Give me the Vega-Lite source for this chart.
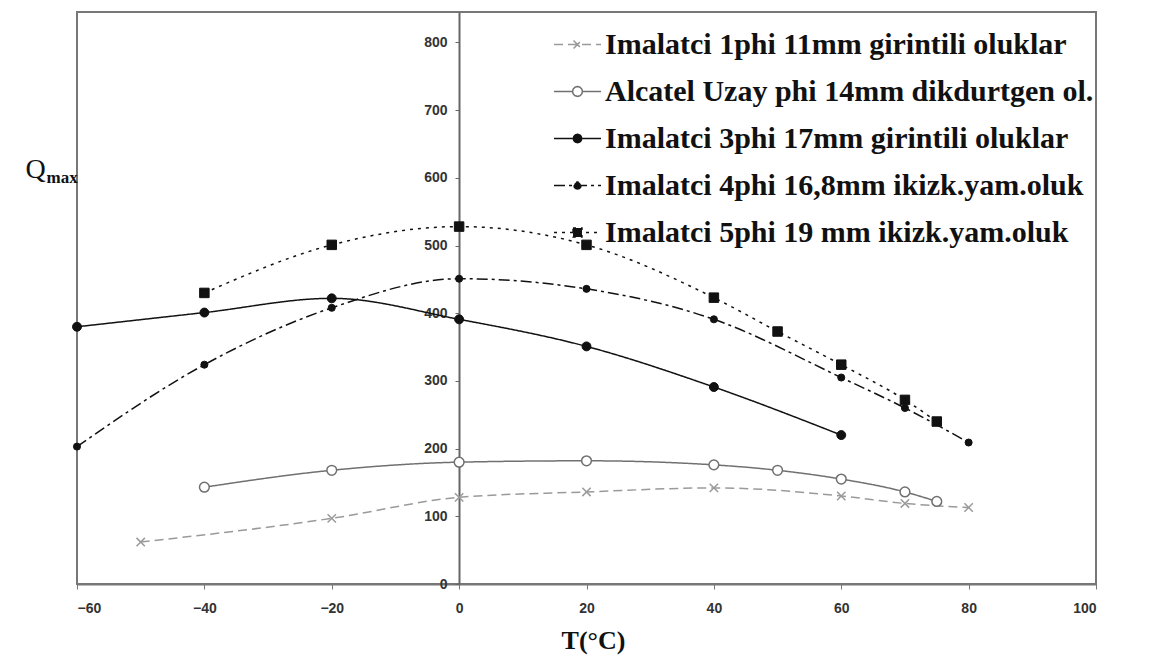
{
  "$schema": "https://vega.github.io/schema/vega-lite/v6.json",
  "width": 1019,
  "height": 572,
  "autosize": {"type": "none"},
  "padding": {"left": 77, "top": 12, "right": 53, "bottom": 87},
  "background": "white",
  "config": {"view": {"stroke": "#777777", "strokeWidth": 2}, "legend": {"symbolOpacity": 1}},
  "data": {
    "values": [
      {"s": "Imalatci 1phi 11mm girintili oluklar", "T": -50, "Q": 62},
      {"s": "Imalatci 1phi 11mm girintili oluklar", "T": -20, "Q": 97},
      {"s": "Imalatci 1phi 11mm girintili oluklar", "T": 0, "Q": 128},
      {"s": "Imalatci 1phi 11mm girintili oluklar", "T": 20, "Q": 136},
      {"s": "Imalatci 1phi 11mm girintili oluklar", "T": 40, "Q": 142},
      {"s": "Imalatci 1phi 11mm girintili oluklar", "T": 60, "Q": 130},
      {"s": "Imalatci 1phi 11mm girintili oluklar", "T": 70, "Q": 119},
      {"s": "Imalatci 1phi 11mm girintili oluklar", "T": 80, "Q": 113},
      {"s": "Alcatel Uzay phi 14mm dikdurtgen ol.", "T": -40, "Q": 143},
      {"s": "Alcatel Uzay phi 14mm dikdurtgen ol.", "T": -20, "Q": 168},
      {"s": "Alcatel Uzay phi 14mm dikdurtgen ol.", "T": 0, "Q": 180},
      {"s": "Alcatel Uzay phi 14mm dikdurtgen ol.", "T": 20, "Q": 182},
      {"s": "Alcatel Uzay phi 14mm dikdurtgen ol.", "T": 40, "Q": 176},
      {"s": "Alcatel Uzay phi 14mm dikdurtgen ol.", "T": 50, "Q": 168},
      {"s": "Alcatel Uzay phi 14mm dikdurtgen ol.", "T": 60, "Q": 155},
      {"s": "Alcatel Uzay phi 14mm dikdurtgen ol.", "T": 70, "Q": 136},
      {"s": "Alcatel Uzay phi 14mm dikdurtgen ol.", "T": 75, "Q": 122},
      {"s": "Imalatci 3phi 17mm girintili oluklar", "T": -60, "Q": 380},
      {"s": "Imalatci 3phi 17mm girintili oluklar", "T": -40, "Q": 401},
      {"s": "Imalatci 3phi 17mm girintili oluklar", "T": -20, "Q": 422},
      {"s": "Imalatci 3phi 17mm girintili oluklar", "T": 0, "Q": 391},
      {"s": "Imalatci 3phi 17mm girintili oluklar", "T": 20, "Q": 351},
      {"s": "Imalatci 3phi 17mm girintili oluklar", "T": 40, "Q": 291},
      {"s": "Imalatci 3phi 17mm girintili oluklar", "T": 60, "Q": 220},
      {"s": "Imalatci 4phi 16,8mm ikizk.yam.oluk", "T": -60, "Q": 203},
      {"s": "Imalatci 4phi 16,8mm ikizk.yam.oluk", "T": -40, "Q": 324},
      {"s": "Imalatci 4phi 16,8mm ikizk.yam.oluk", "T": -20, "Q": 408},
      {"s": "Imalatci 4phi 16,8mm ikizk.yam.oluk", "T": 0, "Q": 451},
      {"s": "Imalatci 4phi 16,8mm ikizk.yam.oluk", "T": 20, "Q": 436},
      {"s": "Imalatci 4phi 16,8mm ikizk.yam.oluk", "T": 40, "Q": 391},
      {"s": "Imalatci 4phi 16,8mm ikizk.yam.oluk", "T": 60, "Q": 305},
      {"s": "Imalatci 4phi 16,8mm ikizk.yam.oluk", "T": 70, "Q": 260},
      {"s": "Imalatci 4phi 16,8mm ikizk.yam.oluk", "T": 80, "Q": 209},
      {"s": "Imalatci 5phi 19 mm ikizk.yam.oluk", "T": -40, "Q": 430},
      {"s": "Imalatci 5phi 19 mm ikizk.yam.oluk", "T": -20, "Q": 501},
      {"s": "Imalatci 5phi 19 mm ikizk.yam.oluk", "T": 0, "Q": 528},
      {"s": "Imalatci 5phi 19 mm ikizk.yam.oluk", "T": 20, "Q": 501},
      {"s": "Imalatci 5phi 19 mm ikizk.yam.oluk", "T": 40, "Q": 423},
      {"s": "Imalatci 5phi 19 mm ikizk.yam.oluk", "T": 50, "Q": 373},
      {"s": "Imalatci 5phi 19 mm ikizk.yam.oluk", "T": 60, "Q": 324},
      {"s": "Imalatci 5phi 19 mm ikizk.yam.oluk", "T": 70, "Q": 272},
      {"s": "Imalatci 5phi 19 mm ikizk.yam.oluk", "T": 75, "Q": 240}
    ]
  },
  "layer": [
    {
      "mark": {"type": "line", "interpolate": "monotone"},
      "encoding": {
        "x": {
          "field": "T", "type": "quantitative",
          "scale": {"domain": [-60, 100], "nice": false, "zero": false},
          "axis": {
            "values": [-60, -40, -20, 0, 20, 40, 60, 80, 100],
            "domainColor": "#777777", "domainWidth": 2,
            "tickColor": "#777777", "tickSize": 5,
            "labelFont": "Liberation Sans", "labelFontSize": 14, "labelFontWeight": "bold", "labelColor": "#333333", "labelPadding": 12,
            "grid": false,
            "title": "T(°C)", "titleFont": "Liberation Serif", "titleFontSize": 26, "titleFontWeight": "bold", "titleColor": "#111111",
            "titleX": 516, "titleY": 64, "titleBaseline": "alphabetic"
          }
        },
        "y": {
          "field": "Q", "type": "quantitative",
          "scale": {"domain": [0, 845], "nice": false},
          "axis": {
            "orient": "left", "offset": -382,
            "values": [0, 100, 200, 300, 400, 500, 600, 700, 800],
            "domainColor": "#666666", "domainWidth": 2,
            "tickColor": "#666666", "tickSize": 4,
            "labelFont": "Liberation Sans", "labelFontSize": 14, "labelFontWeight": "bold", "labelColor": "#333333", "labelPadding": 8,
            "grid": false,
            "title": "Q", "titleFont": "Liberation Serif", "titleFontSize": 28, "titleFontWeight": "normal", "titleColor": "#111111",
            "titleAngle": 0, "titleAlign": "left", "titleBaseline": "alphabetic", "titleX": -434, "titleY": 165
          }
        },
        "stroke": {
          "field": "s", "type": "nominal",
          "scale": {
            "domain": ["Imalatci 1phi 11mm girintili oluklar", "Alcatel Uzay phi 14mm dikdurtgen ol.", "Imalatci 3phi 17mm girintili oluklar", "Imalatci 4phi 16,8mm ikizk.yam.oluk", "Imalatci 5phi 19 mm ikizk.yam.oluk"],
            "range": ["#9a9a9a", "#707070", "#111111", "#111111", "#111111"]
          }
        },
        "strokeDash": {
          "field": "s", "type": "nominal",
          "scale": {
            "domain": ["Imalatci 1phi 11mm girintili oluklar", "Alcatel Uzay phi 14mm dikdurtgen ol.", "Imalatci 3phi 17mm girintili oluklar", "Imalatci 4phi 16,8mm ikizk.yam.oluk", "Imalatci 5phi 19 mm ikizk.yam.oluk"],
            "range": [[9, 5], [1, 0], [1, 0], [11, 4, 3, 4], [3, 5]]
          }
        },
        "strokeWidth": {
          "field": "s", "type": "nominal",
          "scale": {
            "domain": ["Imalatci 1phi 11mm girintili oluklar", "Alcatel Uzay phi 14mm dikdurtgen ol.", "Imalatci 3phi 17mm girintili oluklar", "Imalatci 4phi 16,8mm ikizk.yam.oluk", "Imalatci 5phi 19 mm ikizk.yam.oluk"],
            "range": [1.5, 1.5, 2.2, 2.5, 2.5]
          }
        }
      }
    },
    {
      "mark": {"type": "point", "filled": true, "opacity": 0, "size": 1},
      "encoding": {
        "x": {"field": "T", "type": "quantitative"},
        "y": {"field": "Q", "type": "quantitative", "axis": null},
        "fill": {
          "field": "s", "type": "nominal",
          "scale": {
            "domain": ["Imalatci 1phi 11mm girintili oluklar", "Alcatel Uzay phi 14mm dikdurtgen ol.", "Imalatci 3phi 17mm girintili oluklar", "Imalatci 4phi 16,8mm ikizk.yam.oluk", "Imalatci 5phi 19 mm ikizk.yam.oluk"],
            "range": ["#9a9a9a", "#ffffff", "#111111", "#111111", "#111111"]
          }
        },
        "shape": {
          "field": "s", "type": "nominal",
          "scale": {
            "domain": ["Imalatci 1phi 11mm girintili oluklar", "Alcatel Uzay phi 14mm dikdurtgen ol.", "Imalatci 3phi 17mm girintili oluklar", "Imalatci 4phi 16,8mm ikizk.yam.oluk", "Imalatci 5phi 19 mm ikizk.yam.oluk"],
            "range": [
              "M-1,0H1M-0.17,-0.17L0.17,0.17M-0.17,0.17L0.17,-0.17",
              "M-1,0H-0.21M0.21,0H1M0.21,0L0.182,0.105L0.105,0.182L0,0.21L-0.105,0.182L-0.182,0.105L-0.21,0L-0.182,-0.105L-0.105,-0.182L0,-0.21L0.105,-0.182L0.182,-0.105Z",
              "M-1,0H1M0.18,0L0.156,0.09L0.09,0.156L0,0.18L-0.09,0.156L-0.156,0.09L-0.18,0L-0.156,-0.09L-0.09,-0.156L0,-0.18L0.09,-0.156L0.156,-0.09Z",
              "M-1,0H1M0.15,0L0.13,0.075L0.075,0.13L0,0.15L-0.075,0.13L-0.13,0.075L-0.15,0L-0.13,-0.075L-0.075,-0.13L0,-0.15L0.075,-0.13L0.13,-0.075Z",
              "M-1,0H1M-0.19,-0.19H0.19V0.19H-0.19Z"
            ]
          },
          "legend": {
            "orient": "none", "legendX": 476, "legendY": 8, "title": null, "padding": 0,
            "labelFont": "Liberation Serif", "labelFontSize": 30, "labelFontWeight": "bold", "labelColor": "#111111", "labelLimit": 800,
            "labelOffset": 3, "symbolSize": 2209, "symbolOpacity": 1, "rowPadding": 7
          }
        }
      }
    },
    {
      "transform": [{"filter": "datum.s === 'Imalatci 1phi 11mm girintili oluklar'"}],
      "mark": {"type": "point", "shape": "M-1,-1L1,1M-1,1L1,-1", "size": 70, "stroke": "#9a9a9a", "strokeWidth": 1.5, "filled": false, "opacity": 1},
      "encoding": {
        "x": {"field": "T", "type": "quantitative"},
        "y": {"field": "Q", "type": "quantitative", "axis": null}
      }
    },
    {
      "transform": [{"filter": "datum.s === 'Alcatel Uzay phi 14mm dikdurtgen ol.'"}],
      "mark": {"type": "point", "shape": "circle", "size": 95, "stroke": "#707070", "fill": "#ffffff", "strokeWidth": 1.5, "opacity": 1},
      "encoding": {
        "x": {"field": "T", "type": "quantitative"},
        "y": {"field": "Q", "type": "quantitative", "axis": null}
      }
    },
    {
      "transform": [{"filter": "datum.s === 'Imalatci 3phi 17mm girintili oluklar'"}],
      "mark": {"type": "point", "shape": "circle", "size": 80, "stroke": "#111111", "fill": "#111111", "strokeWidth": 1, "opacity": 1},
      "encoding": {
        "x": {"field": "T", "type": "quantitative"},
        "y": {"field": "Q", "type": "quantitative", "axis": null}
      }
    },
    {
      "transform": [{"filter": "datum.s === 'Imalatci 4phi 16,8mm ikizk.yam.oluk'"}],
      "mark": {"type": "point", "shape": "circle", "size": 50, "stroke": "#111111", "fill": "#111111", "strokeWidth": 1, "opacity": 1},
      "encoding": {
        "x": {"field": "T", "type": "quantitative"},
        "y": {"field": "Q", "type": "quantitative", "axis": null}
      }
    },
    {
      "transform": [{"filter": "datum.s === 'Imalatci 5phi 19 mm ikizk.yam.oluk'"}],
      "mark": {"type": "point", "shape": "square", "size": 90, "stroke": "#111111", "fill": "#111111", "strokeWidth": 1, "opacity": 1},
      "encoding": {
        "x": {"field": "T", "type": "quantitative"},
        "y": {
          "field": "Q", "type": "quantitative",
          "axis": {
            "orient": "left", "offset": 0, "domain": false, "ticks": false, "labels": false, "grid": false,
            "title": "max", "titleFont": "Liberation Serif", "titleFontSize": 17, "titleFontWeight": "bold", "titleColor": "#111111",
            "titleAngle": 0, "titleAlign": "left", "titleBaseline": "alphabetic", "titleX": -31, "titleY": 170
          }
        }
      }
    }
  ],
  "resolve": {"axis": {"y": "independent"}}
}
